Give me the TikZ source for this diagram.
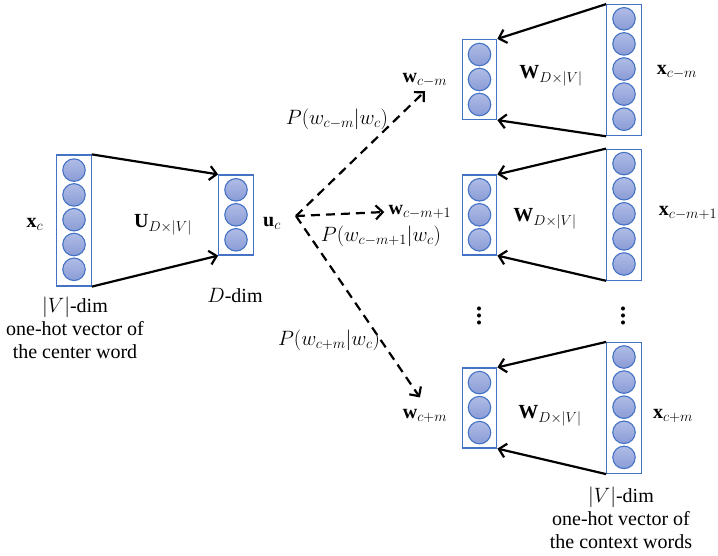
\documentclass[tikz,border=0pt]{standalone}
\usepackage{amsmath, amssymb}
\usepackage{fontspec}
\setmainfont{Liberation Serif}
\usetikzlibrary{arrows.meta}

\definecolor{boxblue}{RGB}{68,114,196}
\definecolor{neurontop}{RGB}{176,188,230}
\definecolor{neuronbot}{RGB}{138,156,214}

\begin{document}
\begin{tikzpicture}
            [x=1pt, y=-1pt, >={Straight Barb[length=7pt,width=14pt]}, line width=2.2pt,
             font=\fontsize{20}{23}\selectfont,
             vec/.style={shape=rectangle, draw=boxblue, line width=1.2pt, minimum width=34.5pt, inner sep=0pt},
             vecfive/.style={vec, minimum height=131pt},
             vecthree/.style={vec, minimum height=80pt},
             neuron/.style={shape=circle, draw=boxblue, line width=1.1pt, top color=neurontop, bottom color=neuronbot, minimum size=22.5pt, inner sep=0pt},
             proj/.style={->, dash pattern=on 9pt off 6pt}]
            \useasboundingbox (0, 0) rectangle (718, 555);

            % center word
            \node[vecfive] (xc) at (74, 220.5) {};
            \foreach \i in {-2,...,2} \node[neuron] (xc\i) at (74, 219.7+24.8*\i) {};
            \node[vecthree] (uc) at (236, 215) {};
            \foreach \i in {-1,0,1} \node[neuron] (uc\i) at (236, 214.8+25*\i) {};

            \node (xclab) at (35, 224) {$\mathbf{x}_c$};
            \node (Ulab) at (163, 225) {$\mathbf{U}_{D\times|V|}$};
            \node (uclab) at (272, 223) {$\mathbf{u}_c$};
            \node (Ddim) at (235, 296) {$D$-dim};
            \node[align=center] (centerdesc) at (75, 328) {$|V|$-dim\\one-hot vector of\\the center word};

            % context words
            \node[vecthree] (wcm) at (479.5, 79.5) {};
            \foreach \i in {-1,0,1} \node[neuron] (wcm\i) at (479.5, 79.5+25*\i) {};
            \node[vecfive] (xcm) at (624, 70.2) {};
            \foreach \i in {-2,...,2} \node[neuron] (xcm\i) at (624, 69+25.1*\i) {};

            \node[vecthree] (wcma) at (479.5, 215) {};
            \foreach \i in {-1,0,1} \node[neuron] (wcma\i) at (479.5, 214.8+25*\i) {};
            \node[vecfive] (xcma) at (624, 214.7) {};
            \foreach \i in {-2,...,2} \node[neuron] (xcma\i) at (624, 213.8+25.1*\i) {};

            \node[vecthree] (wcp) at (479.5, 408) {};
            \foreach \i in {-1,0,1} \node[neuron] (wcp\i) at (479.5, 407.6+25*\i) {};
            \node[vecfive] (xcp) at (624, 408) {};
            \foreach \i in {-2,...,2} \node[neuron] (xcp\i) at (624, 407.2+25.1*\i) {};

            \node (wcmlab) at (425, 80) {$\mathbf{w}_{c-m}$};
            \node (wcmalab) at (420, 212) {$\mathbf{w}_{c-m+1}$};
            \node (wcplab) at (425, 416) {$\mathbf{w}_{c+m}$};
            \node (Wtop) at (551, 76) {$\mathbf{W}_{D\times|V|}$};
            \node (Wmid) at (545, 219) {$\mathbf{W}_{D\times|V|}$};
            \node (Wbot) at (550, 416) {$\mathbf{W}_{D\times|V|}$};
            \node (xcmlab) at (677, 72) {$\mathbf{x}_{c-m}$};
            \node (xcmalab) at (688, 213) {$\mathbf{x}_{c-m+1}$};
            \node (xcplab) at (673, 416) {$\mathbf{x}_{c+m}$};
            \node (dotsw) at (479, 311) {\scalebox{1.7}{$\vdots$}};
            \node (dotsx) at (623, 311) {\scalebox{1.7}{$\vdots$}};
            \node[align=center] (contextdesc) at (621, 518) {$|V|$-dim\\one-hot vector of\\the context words};

            \node (Ptop) at (337, 119) {$P(w_{c-m}|w_c)$};
            \node (Pmid) at (381, 236) {$P(w_{c-m+1}|w_c)$};
            \node (Pbot) at (329, 340) {$P(w_{c+m}|w_c)$};

            \coordinate (fork) at (296, 216);

            \path [->] (xc.north east) edge (uc.north west);
            \path [->] (xc.south east) edge (uc.south west);
            \path [->] (xcm.north west) edge (wcm.north east);
            \path [->] (xcm.south west) edge (wcm.south east);
            \path [->] (xcma.north west) edge (wcma.north east);
            \path [->] (xcma.south west) edge (wcma.south east);
            \path [->] (xcp.north west) edge (wcp.north east);
            \path [->] (xcp.south west) edge (wcp.south east);

            \path [proj] (fork) edge (wcmlab.south);
            \path [proj] (fork) edge (wcmalab.west);
            \path [proj, shorten >=9pt] (fork) edge (wcplab.north);
        \end{tikzpicture}
\end{document}
